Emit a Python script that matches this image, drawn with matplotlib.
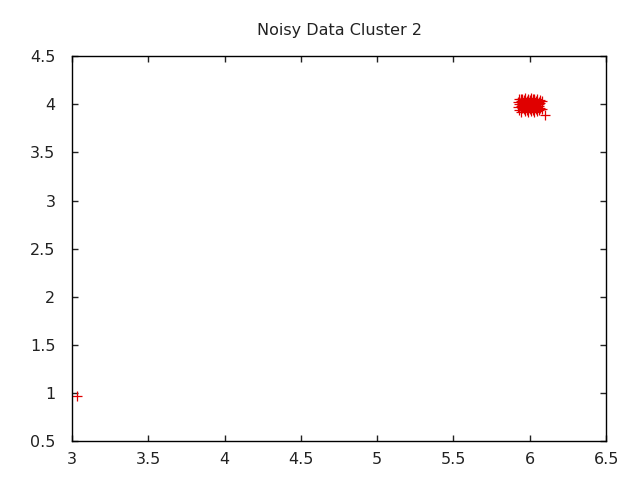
import matplotlib
matplotlib.use('Agg')
import matplotlib.pyplot as plt

# ── Data ──
cluster_x = [5.93, 5.95, 5.97, 5.99, 6.01, 6.03, 6.05, 6.07, 5.92, 5.94,
             5.96, 5.98, 6.00, 6.02, 6.04, 6.06, 6.08, 5.93, 5.95, 5.97,
             5.99, 6.01, 6.03, 6.05, 6.07, 5.94, 5.96, 5.98, 6.00, 6.02,
             6.04, 6.06, 5.92, 5.95, 5.97, 5.99, 6.01, 6.03, 6.05, 6.07,
             5.93, 5.96, 5.98, 6.00, 6.02, 6.04, 6.06, 6.08, 5.94, 5.97,
             5.99, 6.01, 6.03, 6.05, 5.95, 5.98, 6.00, 6.02, 6.04, 5.96,
             5.99, 6.01, 6.03, 5.97, 6.00, 6.02, 6.05, 5.94, 6.06, 6.10]
cluster_y = [4.06, 4.05, 4.07, 4.06, 4.07, 4.05, 4.06, 4.04, 4.02, 4.03,
             4.04, 4.03, 4.04, 4.05, 4.03, 4.02, 4.03, 4.00, 4.01, 4.02,
             4.01, 4.02, 4.01, 4.00, 4.01, 3.98, 3.99, 4.00, 3.99, 3.98,
             3.99, 3.98, 3.97, 3.96, 3.97, 3.96, 3.97, 3.96, 3.97, 3.96,
             3.94, 3.95, 3.94, 3.95, 3.94, 3.95, 3.94, 3.95, 3.92, 3.93,
             3.92, 3.93, 3.92, 3.93, 3.99, 4.00, 4.01, 4.00, 4.01, 4.03,
             4.04, 4.03, 4.04, 3.98, 3.97, 3.96, 3.98, 4.05, 4.00, 3.89]
outlier_x = [3.03]
outlier_y = [0.97]

x_ticks = [3, 3.5, 4, 4.5, 5, 5.5, 6, 6.5]
y_ticks = [0.5, 1, 1.5, 2, 2.5, 3, 3.5, 4, 4.5]

plt.rcParams.update({
    'font.family': 'DejaVu Sans',
    'font.size': 11.5,
})

fig = plt.figure(figsize=(6.4, 4.8), dpi=100)
ax = fig.add_axes([0.1125, 0.081, 0.8345, 0.802])

ax.plot(cluster_x + outlier_x, cluster_y + outlier_y, linestyle='none',
        marker='+', color='#e00000', markersize=7, markeredgewidth=0.9)

ax.set_xlim(3, 6.5)
ax.set_ylim(0.5, 4.5)
ax.set_xticks(x_ticks)
ax.set_xticklabels([f'{t:g}' for t in x_ticks])
ax.set_yticks(y_ticks)
ax.set_yticklabels([f'{t:g}' for t in y_ticks])
ax.tick_params(direction='in', top=True, right=True, length=4, width=1,
               labelsize=11.5, colors='#222222')
ax.tick_params(axis='x', pad=8)
ax.tick_params(axis='y', pad=12)
for s in ax.spines.values():
    s.set_linewidth(1)

ax.set_title('Noisy Data Cluster 2', fontsize=11.5, pad=15, color='#222222')

fig.savefig('out.png', dpi=100)
